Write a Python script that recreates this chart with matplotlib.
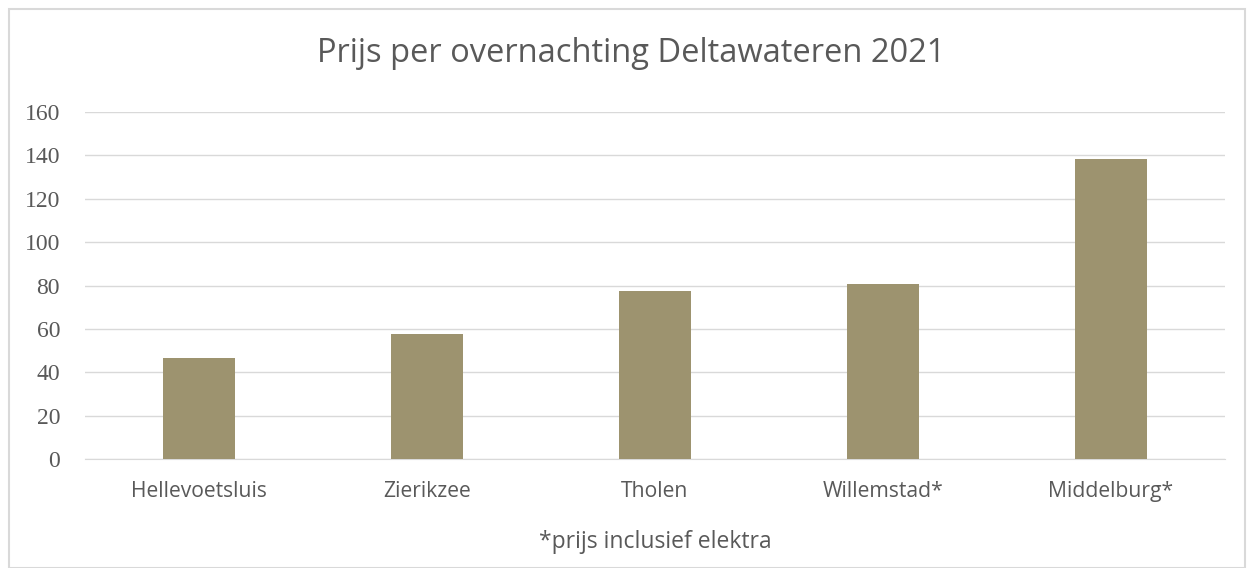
import matplotlib.pyplot as plt
from matplotlib.patches import Rectangle

locations = ["Hellevoetsluis", "Zierikzee", "Tholen", "Willemstad*", "Middelburg*"]
prices = [46.5, 57.5, 77.5, 80.5, 138.5]
yticks = [0, 20, 40, 60, 80, 100, 120, 140, 160]

text_color = "#595959"
grid_color = "#D9D9D9"
bar_color = "#9D936F"

fig = plt.figure(figsize=(12.53, 5.68), dpi=100)
ax = fig.add_axes([85 / 1253, 1 - 459 / 568, 1140 / 1253, 347 / 568])

x = range(len(locations))
ax.bar(x, prices, width=0.32, color=bar_color, zorder=3)

ax.set_ylim(0, 160)
ax.set_xlim(-0.5, len(locations) - 0.5)
ax.set_yticks(yticks)
ax.set_yticklabels([str(v) for v in yticks], family="Liberation Serif",
                   fontsize=17, color=text_color)
ax.set_xticks(list(x))
ax.set_xticklabels(locations, family="Open Sans", fontsize=15.2, color=text_color)
ax.tick_params(axis="both", length=0)
ax.tick_params(axis="y", pad=18)
ax.tick_params(axis="x", pad=16)

ax.grid(axis="y", color=grid_color, linewidth=1, zorder=0)
for side in ["top", "right", "left"]:
    ax.spines[side].set_visible(False)
ax.spines["bottom"].set_color(grid_color)

ax.set_xlabel("*prijs inclusief elektra", family="Open Sans", fontsize=16.5,
              color=text_color, labelpad=20)

fig.text(631 / 1253, 1 - 54 / 568, "Prijs per overnachting Deltawateren 2021",
         ha="center", va="center", family="Open Sans", fontsize=23.5,
         color=text_color)

# outer chart frame
fig.patches.append(Rectangle((9 / 1253, 0), 1236 / 1253, 1 - 9 / 568,
                             transform=fig.transFigure, fill=False,
                             edgecolor=grid_color, linewidth=1.5))

fig.savefig("out.png", dpi=100)
